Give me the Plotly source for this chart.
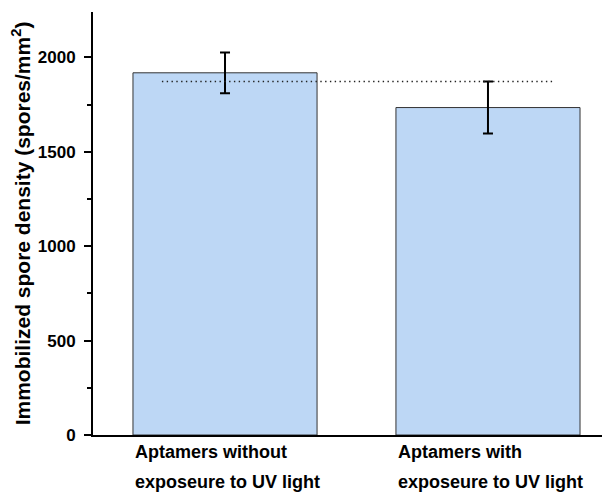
import plotly.graph_objects as go

# ---- data ----
categories = ["Aptamers without<br>exposeure to UV light",
              "Aptamers with<br>exposeure to UV light"]
means = [1918, 1734]
errors = [108, 138]
y_ticks = [0, 500, 1000, 1500, 2000]

ref_level = means[1] + errors[1]  # dotted reference line level

xs = list(range(len(categories)))
FONT = "Liberation Sans, Arial, sans-serif"

fig = go.Figure()
fig.add_trace(go.Bar(
    x=xs, y=means, width=0.70,
    marker=dict(color="#BDD7F5", line=dict(color="#333333", width=1)),
    error_y=dict(type="data", array=errors, visible=True,
                 color="black", thickness=2, width=5),
    showlegend=False,
))
fig.add_trace(go.Scatter(
    x=[-0.24, 1.255], y=[ref_level, ref_level], mode="lines",
    line=dict(color="#222222", width=1.4, dash="1.4px,3.4px"),
    showlegend=False, hoverinfo="skip",
))

annotations = []
for i, cat in enumerate(categories):
    for j, line in enumerate(cat.split("<br>")):
        annotations.append(dict(
            x=i - 0.35, y=0, xref="x", yref="paper",
            xanchor="left", yanchor="middle",
            yshift=-17 - 30 * j, showarrow=False, text=line,
            font=dict(family=FONT, size=18, color="black", weight="bold"),
        ))

fig.update_layout(
    width=602, height=487,
    margin=dict(l=85, r=0, t=4, b=60),
    plot_bgcolor="white", paper_bgcolor="white",
    annotations=annotations,
    xaxis=dict(range=[-0.502, 1.464], showticklabels=False, ticks="",
               showgrid=False, zeroline=False,
               showline=True, linecolor="black", linewidth=2),
    yaxis=dict(range=[0, 2240], tickvals=y_ticks, ticks="outside",
               ticklen=7, tickwidth=2, tickcolor="black",
               ticklabelstandoff=5,
               minor=dict(ticks="outside", ticklen=4, tickwidth=1.5,
                          dtick=250, tickcolor="black"),
               showgrid=False, zeroline=False,
               showline=True, linecolor="black", linewidth=2,
               tickfont=dict(family=FONT, size=17, color="black", weight="bold"),
               title=dict(text="Immobilized spore density (spores/mm<sup>2</sup>)",
                          font=dict(family=FONT, size=21, color="black", weight="bold"),
                          standoff=6)),
)

fig.write_html("out.html")
